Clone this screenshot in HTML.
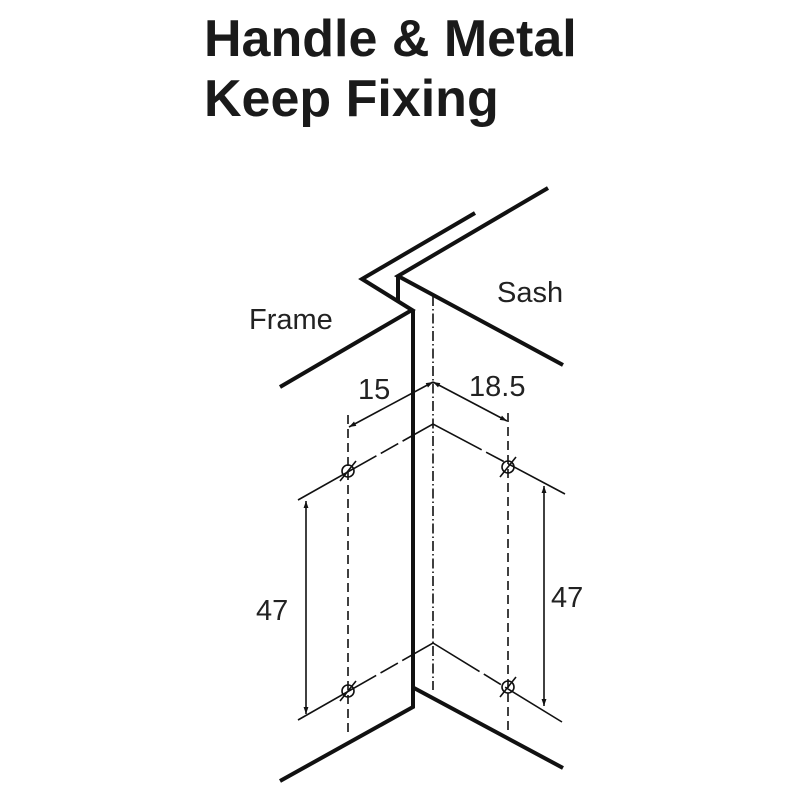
<!DOCTYPE html>
<html><head><style>
body{margin:0;background:#fff;}
svg{display:block}
</style></head><body>
<svg width="800" height="800" viewBox="0 0 800 800" xmlns="http://www.w3.org/2000/svg">
<defs>
<marker id="a" viewBox="0 0 10 10" refX="10" refY="5" markerWidth="11" markerHeight="7" orient="auto-start-reverse" markerUnits="userSpaceOnUse"><path d="M0,1.5 L10,5 L0,8.5 Z" fill="#111"/></marker>
</defs>
<g font-family="Liberation Sans, sans-serif" fill="#222">
<text x="204" y="56" font-size="52" font-weight="bold" fill="#1a1a1a">Handle &amp; Metal</text>
<text x="204" y="116" font-size="52" font-weight="bold" fill="#1a1a1a">Keep Fixing</text>
<text x="249" y="329" font-size="29">Frame</text>
<text x="497" y="302" font-size="29">Sash</text>
<text x="358" y="399" font-size="29">15</text>
<text x="469" y="396" font-size="29">18.5</text>
<text x="256" y="620" font-size="29">47</text>
<text x="551" y="607" font-size="29">47</text>
</g>
<g stroke="#111" fill="none" stroke-width="4" stroke-linejoin="miter">
<polyline points="475,213 362,279 412,310 280,387"/>
<polyline points="413,310 413,707 280,781"/>
<polyline points="548,188 398,276 563,365"/>
<line x1="398" y1="276" x2="398" y2="302"/>
<line x1="414" y1="688" x2="563" y2="768"/>
</g>
<g stroke="#111" fill="none" stroke-width="1.6">
<line x1="433" y1="296" x2="433" y2="690" stroke-dasharray="10,3,1.5,3"/>
<line x1="348" y1="415" x2="348" y2="735" stroke-dasharray="9,5"/>
<line x1="508" y1="413" x2="508" y2="735" stroke-dasharray="9,5"/>
<line x1="433" y1="382" x2="349" y2="427" marker-start="url(#a)" marker-end="url(#a)"/>
<line x1="433" y1="382" x2="507" y2="421" marker-start="url(#a)" marker-end="url(#a)"/>
<polyline points="298,500 433,424 565,494" stroke-dasharray="90,5,20,5"/>
<polyline points="298,720 433,643 562,722" stroke-dasharray="90,5,20,5"/>
<line x1="306" y1="501" x2="306" y2="714" marker-start="url(#a)" marker-end="url(#a)"/>
<line x1="544" y1="486" x2="544" y2="706" marker-start="url(#a)" marker-end="url(#a)"/>
<circle cx="348" cy="471" r="6"/>
<circle cx="508" cy="467" r="6"/>
<circle cx="348" cy="691" r="6"/>
<circle cx="508" cy="687" r="6"/>
<path d="M340,481 L356,461 M500,477 L516,457 M340,701 L356,681 M500,697 L516,677"/>
</g>
</svg>
</body></html>
